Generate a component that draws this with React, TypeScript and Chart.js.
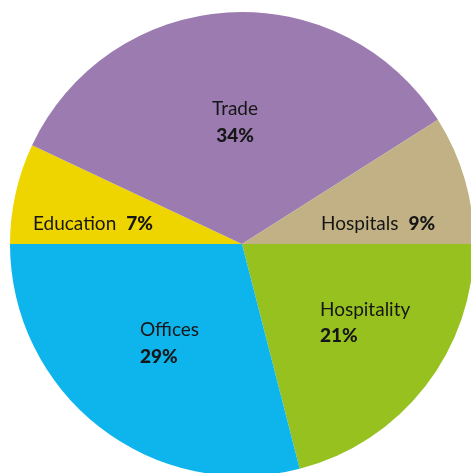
import React, { useEffect, useRef } from "react";
import { Chart, registerables } from "chart.js";

Chart.register(...registerables);

// Data (clockwise from 3 o'clock)
const categories = ["Hospitality", "Offices", "Education", "Trade", "Hospitals"];
const shares = [21, 29, 7, 34, 9];
const colors = ["#96c11f", "#0db5ec", "#efd500", "#9b7bb0", "#c2b185"];

// Label layout: position relative to pie center, in fractions of radius
type LabelLayout = { dx: number; dy1: number; dy2: number; align: "left" | "center"; twoLine: boolean };
const labelLayout: LabelLayout[] = [
  { dx: 0.336, dy1: 0.284, dy2: 0.394, align: "left", twoLine: true },
  { dx: -0.44, dy1: 0.371, dy2: 0.487, align: "left", twoLine: true },
  { dx: -0.901, dy1: -0.088, dy2: 0, align: "left", twoLine: false },
  { dx: -0.03, dy1: -0.584, dy2: -0.468, align: "center", twoLine: true },
  { dx: 0.341, dy1: -0.088, dy2: 0, align: "left", twoLine: false },
];

const FONT_FAMILY = "Lato, 'Noto Sans', sans-serif";
const FONT_SIZE = 19;

const labelPlugin = {
  id: "sliceLabels",
  afterDatasetsDraw(chart: any) {
    const ctx = chart.ctx as CanvasRenderingContext2D;
    const meta = chart.getDatasetMeta(0);
    ctx.save();
    ctx.fillStyle = "#161616";
    ctx.textBaseline = "middle";
    meta.data.forEach((arc: any, i: number) => {
      const L = labelLayout[i];
      const r = arc.outerRadius;
      const cx = arc.x;
      const cy = arc.y;
      const x = cx + L.dx * r;
      const name = categories[i];
      const pct = shares[i] + "%";
      const regular = `400 ${FONT_SIZE}px ${FONT_FAMILY}`;
      const bold = `900 ${FONT_SIZE}px ${FONT_FAMILY}`;
      if (L.twoLine) {
        ctx.textAlign = L.align;
        ctx.font = regular;
        ctx.fillText(name, x, cy + L.dy1 * r);
        ctx.font = bold;
        ctx.fillText(pct, x, cy + L.dy2 * r);
      } else {
        ctx.textAlign = "left";
        ctx.font = regular;
        const w = ctx.measureText(name).width;
        ctx.fillText(name, x, cy + L.dy1 * r);
        ctx.font = bold;
        ctx.fillText(pct, x + w + 10, cy + L.dy1 * r);
      }
    });
    ctx.restore();
  },
};

export default function App() {
  const ref = useRef<HTMLCanvasElement | null>(null);
  useEffect(() => {
    if (!ref.current) return;
    const chart = new Chart(ref.current, {
      type: "pie",
      data: {
        labels: categories,
        datasets: [
          {
            data: shares,
            backgroundColor: colors,
            borderWidth: 0,
          },
        ],
      },
      options: {
        responsive: false,
        animation: false,
        rotation: 90,
        layout: { padding: 2 },
        plugins: {
          legend: { display: false },
          tooltip: { enabled: false },
        },
      },
      plugins: [labelPlugin],
    });
    return () => chart.destroy();
  }, []);
  return (
    <div style={{ position: "fixed", left: 8, top: 8, width: 463, height: 465, overflow: "hidden" }}>
      <canvas ref={ref} width={468} height={472} style={{ width: 468, height: 472, display: "block" }} />
    </div>
  );
}
